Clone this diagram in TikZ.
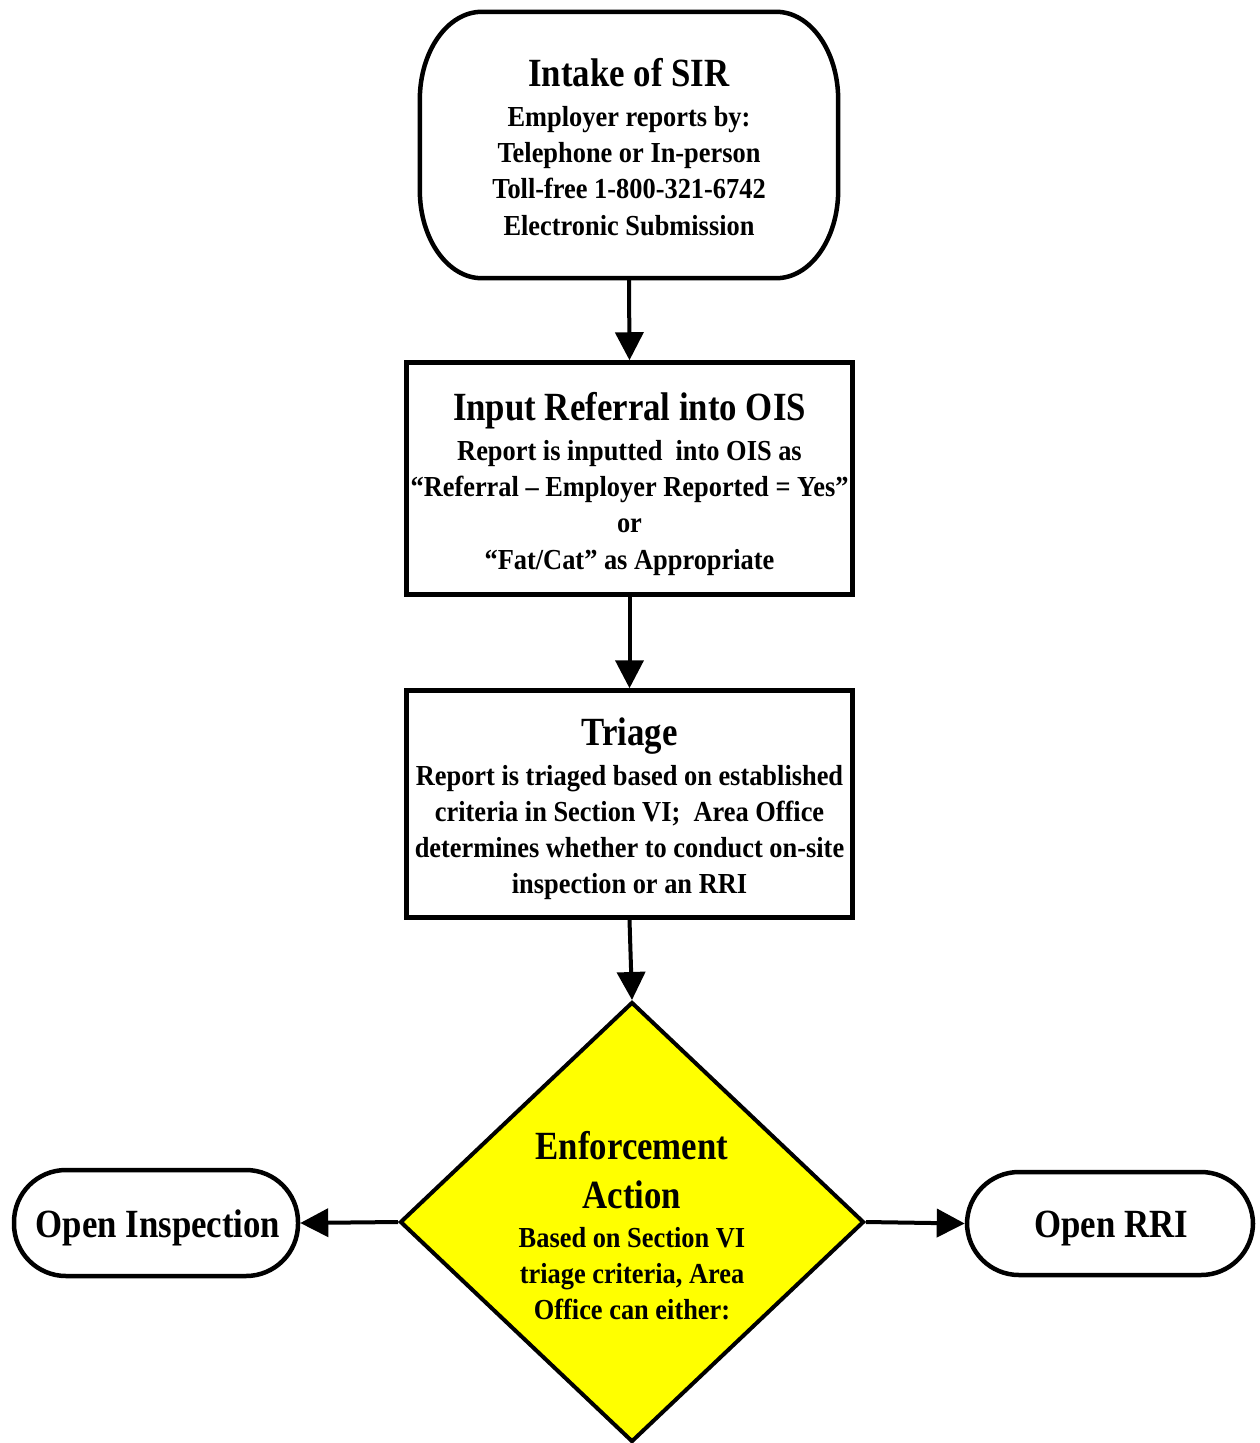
\documentclass[tikz,border=0pt]{standalone}
\usepackage{fontspec}
\setmainfont{Liberation Serif}[FakeStretch=0.91]
\newfontfamily\ttlfont{Liberation Serif}[FakeStretch=0.87]
\usetikzlibrary{arrows.meta,shapes.geometric}
\definecolor{ylw}{RGB}{255,255,0}
\newcommand\bigttl[1]{{\ttlfont\bfseries\fontsize{40}{36}\selectfont #1}}
\begin{document}
\begin{tikzpicture}[x=1pt,y=1pt,
  every node/.style={font=\bfseries\fontsize{29}{36.3}\selectfont, align=center, inner sep=0pt},
  boxst/.style={draw, line width=4.5pt, rectangle},
  termst/.style={draw, line width=4.5pt, rectangle, rounded corners=52pt},
  decst/.style={draw, line width=4pt, diamond, fill=ylw},
  arr/.style={line width=4pt, -{Triangle[length=28pt,width=28pt]}}
]
\useasboundingbox (0,0) rectangle (1259,-1443);

% top terminal
\node[minimum width=418pt, minimum height=266pt] (intake) at (629,-145) {};
\draw[line width=4.5pt]
  ([xshift=62pt]intake.north west) -- ([xshift=-62pt]intake.north east)
  arc[start angle=90,end angle=0,x radius=62pt,y radius=88pt]
  -- ([yshift=88pt]intake.south east)
  arc[start angle=0,end angle=-90,x radius=62pt,y radius=88pt]
  -- ([xshift=62pt]intake.south west)
  arc[start angle=270,end angle=180,x radius=62pt,y radius=88pt]
  -- ([yshift=-88pt]intake.north west)
  arc[start angle=180,end angle=90,x radius=62pt,y radius=88pt] -- cycle;
\node (intaketxt) at (629,-147)
  {\bigttl{Intake of SIR}\\[3pt]Employer reports by:\\Telephone or In-person\\Toll-free 1-800-321-6742\\Electronic Submission};

\node[boxst, minimum width=446pt, minimum height=232pt] (input) at (629.5,-478.5) {};
\node (inputtxt) at (629.5,-484)
  {\bigttl{Input Referral into OIS}\\[3pt]Report is inputted\ \ into OIS as\\“Referral – Employer Reported = Yes”\\or\\“Fat/Cat” as Appropriate};

\node[boxst, minimum width=446pt, minimum height=227pt] (triage) at (629.5,-804) {};
\node (triagetxt) at (629.5,-809)
  {\bigttl{Triage}\\[3pt]Report is triaged based on established\\criteria in Section VI;\ \ Area Office\\determines whether to conduct on-site\\inspection or an RRI};

\node[decst, minimum width=464pt, minimum height=440pt] (enf) at (632,-1222) {};
\node (enftext) at (632,-1226)
  {\bigttl{Enforcement}\\[12pt]\bigttl{Action}\\[3pt]Based on Section VI\\triage criteria, Area\\Office can either:};

\node[termst, minimum width=284pt, minimum height=106pt] (insp) at (156,-1223) {};
\node (insptxt) at (158,-1228) {\bigttl{Open Inspection}};
\node[termst, minimum width=286pt, minimum height=103pt] (rri) at (1110,-1223.5) {};
\node (rritxt) at (1111,-1228) {\bigttl{Open RRI}};

\draw[arr] (intake.south) -- (input.north);
\draw[arr] (input.south) -- (triage.north);
\draw[arr] (triage.south) -- (enf.north);
\draw[arr] (enf.west) -- (insp.east);
\draw[arr] (enf.east) -- (rri.west);
\end{tikzpicture}
\end{document}
